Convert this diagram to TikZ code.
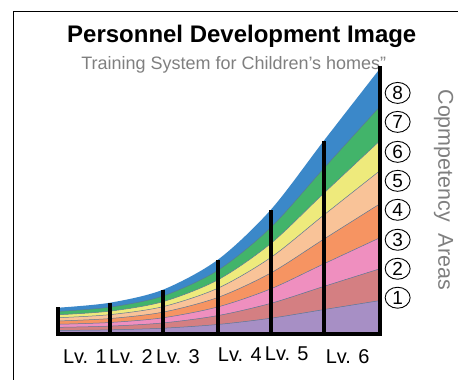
\documentclass[tikz,border=0pt]{standalone}
\usepackage{fontspec}
\setmainfont{Liberation Sans}
\usepackage{tikz}
\usetikzlibrary{shapes.geometric}

\definecolor{BandBlue}{HTML}{3B88C9}
\definecolor{BandGreen}{HTML}{42B46A}
\definecolor{BandYellow}{HTML}{EEEA7C}
\definecolor{BandPeach}{HTML}{F9C398}
\definecolor{BandOrange}{HTML}{F69462}
\definecolor{BandPink}{HTML}{EF8FBF}
\definecolor{BandRose}{HTML}{D47F82}
\definecolor{BandPurple}{HTML}{A78FC5}
\definecolor{BandLine}{HTML}{5B7896}
\definecolor{SubGrey}{HTML}{7F7F7F}

\begin{document}
\begin{tikzpicture}[x=1pt, y=1pt]
	\path (-58,-46) rectangle (400,334); 

	\draw[line width=0.8pt] (-44.5,-46) -- (-44.5,323) -- (400,323);

	\node[anchor=base, font=\fontsize{24}{28}\selectfont\bfseries] (title) at (184,291) {Personnel Development Image};
	\node[anchor=base, text=SubGrey, font=\fontsize{18}{21}\selectfont] (subtitle) at (176,264) {Training System for Children’s homes”};

	\foreach \f/\c in {1/BandBlue, 0.857/BandGreen, 0.728/BandYellow, 0.615/BandPeach, 0.49/BandOrange, 0.362/BandPink, 0.245/BandRose, 0.125/BandPurple}
		\fill[\c] plot[smooth] coordinates {(0,{26*\f}) (52,{31*\f}) (105,{44*\f}) (160,{74*\f}) (213,{124*\f}) (266,{193*\f}) (322,{265*\f})} -- (322,0) -- (0,0) -- cycle;

	\foreach \f in {0.857, 0.728, 0.615, 0.49, 0.362, 0.245, 0.125}
		\draw[BandLine, line width=0.5pt] plot[smooth] coordinates {(0,{26*\f}) (52,{31*\f}) (105,{44*\f}) (160,{74*\f}) (213,{124*\f}) (266,{193*\f}) (322,{265*\f})};

	\foreach \u/\h in {0/27, 52/31, 105/44, 160/74, 213/124, 266/193, 322/268}
		\draw[line width=4pt] (\u,0) -- (\u,\h);
	\draw[line width=4pt] (-2,0) -- (324,0);

	\foreach \n/\x/\y in {1/27/-30, 2/73/-30, 3/120/-30, 4/182/-28, 5/229/-27, 6/290/-30}
		\node[anchor=base, font=\fontsize{20}{24}\selectfont] (lv\n) at (\x,\y) {Lv. \n};

	\foreach \n/\y in {1/36, 2/65, 3/94, 4/124, 5/153, 6/182, 7/212, 8/241}
		\node[draw, ellipse, line width=0.9pt, minimum width=25pt, minimum height=21pt, inner sep=0pt, font=\fontsize{19}{19}\selectfont] (area\n) at (340,\y) {\n};

	\node[rotate=-90, text=SubGrey, font=\fontsize{21.5}{25}\selectfont] (areas) at (386,144) {Copmpetency~~Areas};

\end{tikzpicture}
\end{document}
